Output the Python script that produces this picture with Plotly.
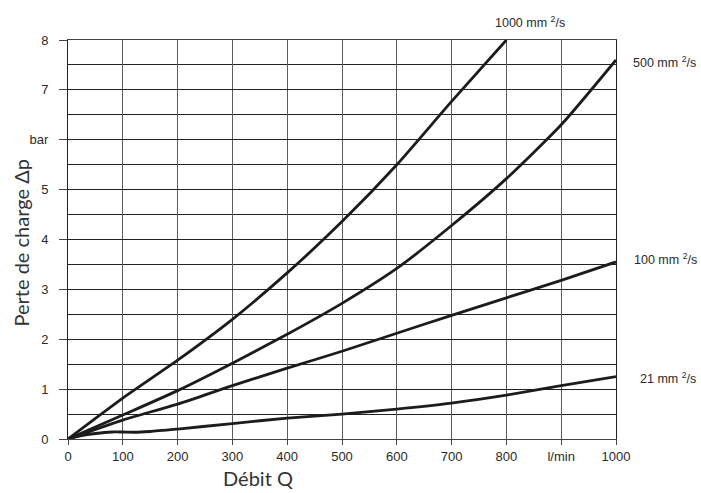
import plotly.graph_objects as go

# Data
flow = [0, 100, 200, 300, 400, 500, 600, 700, 800, 900, 1000]
visc_1000 = [0, 0.82, 1.58, 2.40, 3.33, 4.36, 5.50, 6.77, 8.00]
visc_500 = [0, 0.48, 0.97, 1.52, 2.10, 2.72, 3.42, 4.28, 5.22, 6.30, 7.60]
visc_100 = [0, 0.38, 0.70, 1.07, 1.42, 1.76, 2.12, 2.48, 2.83, 3.18, 3.55]
flow_21 = [0, 25, 50, 80, 100, 120, 150, 200, 300, 400, 500, 600, 700, 800, 900, 1000]
visc_21 = [0, 0.07, 0.11, 0.14, 0.14, 0.135, 0.15, 0.20, 0.31, 0.42, 0.50, 0.60, 0.72, 0.88, 1.07, 1.25]

x_tickvals = [0, 100, 200, 300, 400, 500, 600, 700, 800, 900, 1000]
x_ticktext = ["0", "100", "200", "300", "400", "500", "600", "700", "800", "l/min", "1000"]
y_tickvals = [0, 1, 2, 3, 4, 5, 6, 7, 8]
y_ticktext = ["0", "1", "2", "3", "4", "5", "bar", "7", "8"]

labels = ["1000 mm <sup>2</sup>/s", "500 mm <sup>2</sup>/s", "100 mm <sup>2</sup>/s", "21 mm <sup>2</sup>/s"]
label_pos = [(0.776, 1.046), (1.027, 0.946), (1.029, 0.452), (1.040, 0.153)]

line_style = dict(color="#1c1c1c", width=2.8, shape="spline", smoothing=0.6)

fig = go.Figure()
fig.add_trace(go.Scatter(x=flow[:len(visc_1000)], y=visc_1000, mode="lines", line=line_style))
fig.add_trace(go.Scatter(x=flow, y=visc_500, mode="lines", line=line_style))
fig.add_trace(go.Scatter(x=flow, y=visc_100, mode="lines", line=line_style))
fig.add_trace(go.Scatter(x=flow_21, y=visc_21, mode="lines", line=line_style))

for text, (lx, ly) in zip(labels, label_pos):
    fig.add_annotation(x=lx, y=ly, xref="paper", yref="paper", text=text, showarrow=False,
                       xanchor="left", yanchor="middle",
                       font=dict(family="Liberation Sans", size=12.5, color="#2a2a2a"))

fig.add_annotation(x=347, y=0, xref="x", yref="paper", text="Débit Q", showarrow=False,
                   xanchor="center", yanchor="middle", yshift=-39,
                   font=dict(family="Lato", size=20, color="#333"))

fig.add_annotation(x=0, y=0.49, xref="paper", yref="paper", text="Perte de charge Δp", showarrow=False,
                   xanchor="center", yanchor="middle", xshift=-47, textangle=-90,
                   font=dict(family="Lato", size=20, color="#333"))

fig.update_layout(
    width=701, height=493,
    margin=dict(l=68, r=85, t=40, b=54),
    paper_bgcolor="white", plot_bgcolor="white",
    showlegend=False,
)
fig.update_xaxes(
    range=[0, 1000], tickvals=x_tickvals, ticktext=x_ticktext,
    showgrid=True, gridcolor="#5c5c5c", gridwidth=1.3,
    zeroline=False, showline=True, mirror=True, linecolor="#444", linewidth=1.3,
    ticks="outside", ticklen=5, tickcolor="#444",
    tickfont=dict(family="Liberation Sans", size=13, color="#2a2a2a"),
)
fig.update_yaxes(
    range=[0, 8], tickvals=y_tickvals, ticktext=y_ticktext,
    showgrid=True, gridcolor="#222", gridwidth=1,
    minor=dict(tickvals=[0.5, 1.5, 2.5, 3.5, 4.5, 5.5, 6.5, 7.5], showgrid=True, gridcolor="#222", gridwidth=1, ticks=""),
    zeroline=False, showline=True, mirror=True, linecolor="#222", linewidth=1,
    ticks="outside", ticklen=8, tickcolor="#444", ticklabelstandoff=8,
    tickfont=dict(family="Liberation Sans", size=13, color="#2a2a2a"),
)

fig.write_html("out.html")
